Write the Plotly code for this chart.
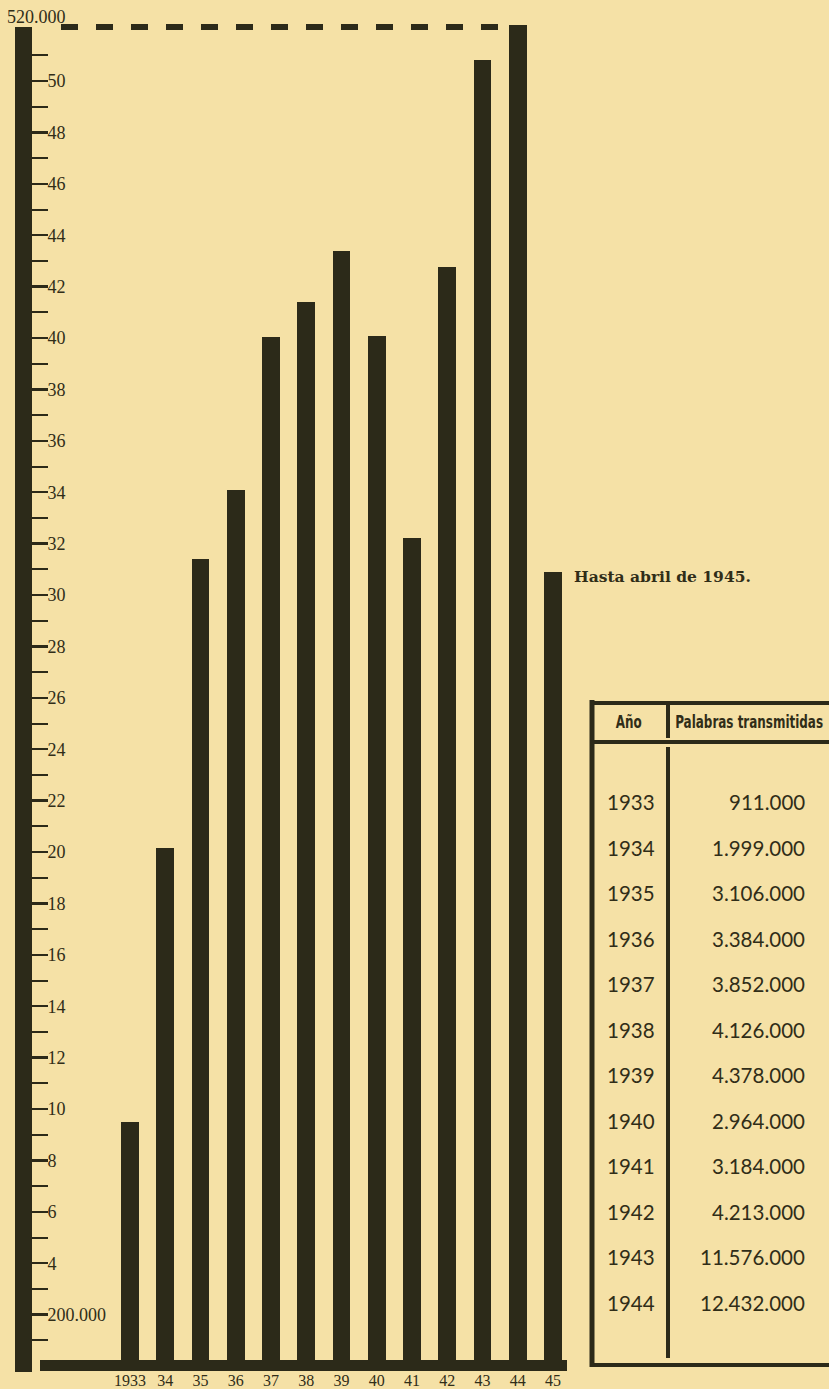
import plotly.graph_objects as go

# ---------------- data ----------------
years = ["1933", "34", "35", "36", "37", "38", "39", "40", "41", "42", "43", "44", "45"]
bar_values = [9.49, 20.16, 31.40, 34.09, 40.04, 41.40, 43.39, 40.08, 32.20, 42.76, 50.82, 52.18, 30.89]
major_tick_vals = list(range(2, 51, 2))
major_tick_text = ["200.000"] + [str(v) for v in range(4, 51, 2)]
minor_tick_vals = list(range(1, 52, 2))
top_label = "520.000"
note_text = "Hasta abril de 1945."
table_header = ["Año", "Palabras transmitidas"]
table_years = ["1933", "1934", "1935", "1936", "1937", "1938", "1939", "1940",
               "1941", "1942", "1943", "1944"]
table_words = ["911.000", "1.999.000", "3.106.000", "3.384.000", "3.852.000",
               "4.126.000", "4.378.000", "2.964.000", "3.184.000", "4.213.000",
               "11.576.000", "12.432.000"]

# ---------------- style ----------------
W, H = 829, 1389
PLOT_BOTTOM = 1366          # pixel row of the zero line / bottom of plot area
BG = "#f5e1a6"
INK = "#2c2a19"
TXT = "#302d18"
SERIF = "Liberation Serif, DejaVu Serif, serif"


def px(x):
    return x / W


def py(y):
    # paper coords are relative to the plot area (top margin 0, bottom at PLOT_BOTTOM)
    return (PLOT_BOTTOM - y) / PLOT_BOTTOM


fig = go.Figure()
fig.add_trace(go.Bar(
    x=list(range(len(years))), y=bar_values, width=0.51,
    marker=dict(color=INK, line=dict(width=0)), hoverinfo="skip",
))

shapes = []
# thick left axis column
shapes.append(dict(type="rect", xref="paper", yref="paper", x0=px(15), x1=px(32),
                   y0=py(1372), y1=py(27), fillcolor=INK, line=dict(width=0), layer="above"))
# baseline
shapes.append(dict(type="rect", xref="paper", yref="paper", x0=px(40), x1=px(567),
                   y0=py(1371), y1=py(1360), fillcolor=INK, line=dict(width=0), layer="above"))
# dashed top line
shapes.append(dict(type="line", xref="paper", yref="paper", x0=px(61), x1=px(505),
                   y0=py(27), y1=py(27), line=dict(color=INK, width=6, dash="17px,18px")))


# table lines
def tline(x0, y0, x1, y1, w):
    shapes.append(dict(type="line", xref="paper", yref="paper", x0=px(x0), x1=px(x1),
                       y0=py(y0), y1=py(y1), line=dict(color=INK, width=w)))


tline(592, 700, 592, 1367, 5)      # left border
tline(590, 703, 829, 703, 4)       # top
tline(590, 742, 829, 742, 4)       # header bottom
tline(668, 703, 668, 738, 4)       # header separator
tline(668, 747, 668, 1358, 4)      # body separator
tline(590, 1365, 829, 1365, 4)     # bottom

annotations = []
annotations.append(dict(text=top_label, xref="paper", yref="paper", x=px(36), y=py(17),
                        showarrow=False, xanchor="center", yanchor="middle",
                        font=dict(family=SERIF, size=18, color=TXT)))
annotations.append(dict(text=note_text, xref="paper", yref="paper", x=px(572), y=py(576),
                        showarrow=False, xanchor="left", yanchor="middle",
                        font=dict(family="DejaVu Serif, serif", size=15.5, color=TXT, weight="bold")))
COND = "DejaVu Sans Condensed, Liberation Sans Narrow, Lato, sans-serif"
annotations.append(dict(text=table_header[0], xref="paper", yref="paper", x=px(628), y=py(722),
                        showarrow=False, xanchor="center", yanchor="middle",
                        font=dict(family=COND, size=18, color=TXT, weight="bold")))
annotations.append(dict(text=table_header[1], xref="paper", yref="paper", x=px(749), y=py(722),
                        showarrow=False, xanchor="center", yanchor="middle",
                        font=dict(family=COND, size=18, color=TXT, weight="bold")))
for i, (yr, wd) in enumerate(zip(table_years, table_words)):
    yc = 802 + 45.5 * i
    annotations.append(dict(text=yr, xref="paper", yref="paper", x=px(631), y=py(yc),
                            showarrow=False, xanchor="center", yanchor="middle",
                            font=dict(family="Lato, sans-serif", size=20.5, color=TXT)))
    annotations.append(dict(text=wd, xref="paper", yref="paper", x=px(807), y=py(yc),
                            showarrow=False, xanchor="right", yanchor="middle",
                            font=dict(family="Lato, sans-serif", size=20.5, color=TXT)))

x0_px = 32
bar0_px, step_px = 130, 35.25
fig.update_layout(
    width=W, height=H,
    margin=dict(l=0, r=0, t=0, b=H - PLOT_BOTTOM, pad=0),
    paper_bgcolor=BG, plot_bgcolor=BG,
    showlegend=False, bargap=0,
    shapes=shapes, annotations=annotations,
    xaxis=dict(
        domain=[x0_px / W, 1],
        range=[(x0_px - bar0_px) / step_px, (W - bar0_px) / step_px],
        tickmode="array", tickvals=list(range(len(years))), ticktext=years,
        ticks="", showgrid=False, zeroline=False, showline=False,
        tickfont=dict(family=SERIF, size=16, color=TXT), ticklabelstandoff=3,
        fixedrange=True,
    ),
    yaxis=dict(
        range=[0, PLOT_BOTTOM / 25.7],
        tickmode="array", tickvals=major_tick_vals, ticktext=major_tick_text,
        ticks="inside", ticklen=16, tickwidth=2.5, tickcolor=INK,
        ticklabelposition="inside",
        tickfont=dict(family=SERIF, size=18, color=TXT),
        minor=dict(tickmode="array", tickvals=minor_tick_vals, ticks="inside",
                   ticklen=16, tickwidth=2, tickcolor=INK, showgrid=False),
        showgrid=False, zeroline=False, showline=False, fixedrange=True,
    ),
)

post = """
document.body.style.margin='0';
document.body.style.overflow='hidden';
var s = 1;
document.querySelectorAll('g.annotation text').forEach(function(t){
  if (t.textContent.indexOf('Palabras') === 0) { s = 148 / t.getBBox().width; }
});
if (s < 1) {
  document.querySelectorAll('g.annotation text').forEach(function(t){
    var c = t.textContent;
    if (c.indexOf('Palabras') === 0 || c === 'A\\u00f1o' || c === 'Año') {
      t.style.transformBox = 'fill-box';
      t.style.transformOrigin = 'center';
      t.style.transform = 'scaleX(' + s + ')';
    }
  });
}
"""

fig.write_html("out.html", config={"displayModeBar": False, "staticPlot": True},
               post_script=post)
